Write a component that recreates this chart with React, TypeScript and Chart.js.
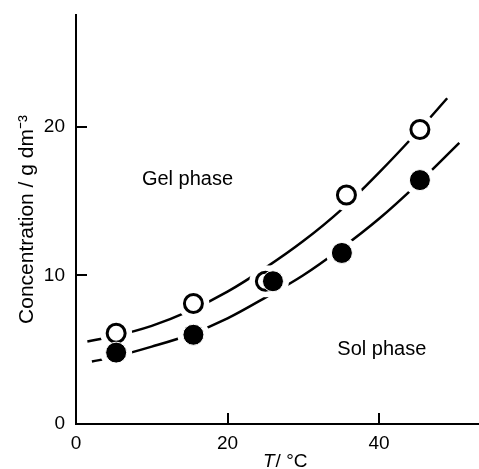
import React, { useEffect, useRef } from 'react';
import { Chart, registerables } from 'chart.js';

Chart.register(...registerables);

// Measured points (°C, g dm^-3)
const openT = [5.3, 15.5, 25.0, 35.7, 45.4];
const openC = [6.1, 8.1, 9.6, 15.4, 19.8];
const filledT = [5.3, 15.5, 26.0, 35.1, 45.4];
const filledC = [4.8, 6.0, 9.6, 11.5, 16.4];

// Hand-drawn boundary curves
const upperT = [1.5, 5, 10, 15, 20, 25, 30, 35, 40, 45, 49];
const upperC = [5.55, 5.9, 6.6, 7.6, 8.9, 10.5, 12.3, 14.4, 16.9, 19.6, 21.9];
const lowerT = [2.1, 5, 10, 15, 20, 25, 30, 35, 40, 45, 50.6];
const lowerC = [4.2, 4.5, 5.2, 6.0, 7.1, 8.5, 10.0, 11.8, 13.8, 16.1, 18.9];

const xTicks = [0, 20, 40];
const yTicks = [0, 10, 20];
const xRange = [0, 53.2];
const yRange = [0, 27.5];

const regionLabels = ['Gel phase', 'Sol phase'];
const regionT = [8.7, 34.5];
const regionC = [16.1, 4.65];

const yTitle = 'Concentration / g dm⁻³';
const xTitleItalic = 'T';
const xTitleRest = '/ °C';

const FONT = '"Liberation Sans", Arial, Helvetica, sans-serif';

const pts = (xs: number[], ys: number[]) => xs.map((x, i) => ({ x, y: ys[i] }));

export default function App() {
  const ref = useRef<HTMLCanvasElement | null>(null);

  useEffect(() => {
    document.body.style.margin = '0';
    const canvas = ref.current;
    if (!canvas) return;

    const overlay = {
      id: 'overlay',
      afterDraw(chart: any) {
        const ctx = chart.ctx;
        const xs = chart.scales.x;
        const ys = chart.scales.y;
        const area = chart.chartArea;
        ctx.save();
        // inward tick marks
        ctx.strokeStyle = '#000';
        ctx.lineWidth = 2;
        ctx.beginPath();
        xTicks.forEach((v) => {
          if (v === xRange[0]) return;
          const px = Math.round(xs.getPixelForValue(v));
          ctx.moveTo(px, area.bottom);
          ctx.lineTo(px, area.bottom - 11);
        });
        yTicks.forEach((v) => {
          if (v === yRange[0]) return;
          const py = Math.round(ys.getPixelForValue(v));
          ctx.moveTo(area.left, py);
          ctx.lineTo(area.left + 11, py);
        });
        ctx.stroke();

        // region labels
        ctx.fillStyle = '#000';
        ctx.textBaseline = 'alphabetic';
        ctx.textAlign = 'left';
        ctx.font = `20px ${FONT}`;
        regionLabels.forEach((t, i) => {
          ctx.fillText(t, xs.getPixelForValue(regionT[i]), ys.getPixelForValue(regionC[i]));
        });

        // x axis title with italic T
        const baseY = 467;
        let x0 = 263;
        ctx.font = `italic 19px ${FONT}`;
        ctx.fillText(xTitleItalic, x0, baseY);
        x0 += ctx.measureText(xTitleItalic).width + 1;
        ctx.font = `19px ${FONT}`;
        ctx.fillText(xTitleRest, x0, baseY);
        ctx.restore();
      },
    };

    const chart = new Chart(canvas, {
      type: 'scatter',
      data: {
        datasets: [
          {
            data: pts(filledT, filledC),
            pointRadius: 10.5,
            pointBackgroundColor: '#000',
            pointBorderColor: '#fff',
            pointBorderWidth: 1,
            showLine: false,
            order: 0,
          },
          {
            data: pts(openT, openC),
            pointRadius: 9,
            pointBackgroundColor: '#fff',
            pointBorderColor: '#000',
            pointBorderWidth: 3,
            showLine: false,
            order: 1,
          },
          {
            data: pts(openT, openC).concat(pts(filledT, filledC)),
            pointRadius: 16,
            pointBackgroundColor: '#fff',
            pointBorderColor: '#fff',
            pointBorderWidth: 0,
            showLine: false,
            order: 2,
          },
          {
            data: pts(upperT, upperC),
            showLine: true,
            borderColor: '#000',
            borderWidth: 2.5,
            pointRadius: 0,
            cubicInterpolationMode: 'monotone',
            order: 3,
          },
          {
            data: pts(lowerT, lowerC),
            showLine: true,
            borderColor: '#000',
            borderWidth: 2.5,
            pointRadius: 0,
            cubicInterpolationMode: 'monotone',
            order: 4,
          },
        ],
      },
      options: {
        responsive: false,
        animation: false,
        events: [],
        layout: { autoPadding: false, padding: { top: 15, right: 0, left: 0, bottom: 0 } },
        plugins: { legend: { display: false }, tooltip: { enabled: false } },
        scales: {
          x: {
            type: 'linear',
            min: xRange[0],
            max: xRange[1],
            afterBuildTicks: (s: any) => {
              s.ticks = xTicks.map((v) => ({ value: v }));
            },
            afterFit: (s: any) => {
              s.height = 45;
              s.paddingLeft = 0;
              s.paddingRight = 0;
            },
            grid: { display: false, drawTicks: false },
            border: { display: true, color: '#000', width: 2 },
            ticks: { color: '#000', padding: 8, font: { family: FONT, size: 19 }, maxRotation: 0 },
          },
          y: {
            type: 'linear',
            min: yRange[0],
            max: yRange[1],
            afterBuildTicks: (s: any) => {
              s.ticks = yTicks.map((v) => ({ value: v }));
            },
            afterFit: (s: any) => {
              s.width = 76;
              s.paddingTop = 0;
              s.paddingBottom = 0;
            },
            grid: { display: false, drawTicks: false },
            border: { display: true, color: '#000', width: 2 },
            ticks: { color: '#000', padding: 11, font: { family: FONT, size: 19 } },
            title: {
              display: true,
              text: yTitle,
              color: '#000',
              font: { family: FONT, size: 21 },
              padding: { top: 15, bottom: 0 },
            },
          },
        },
      },
      plugins: [overlay],
    });
    return () => chart.destroy();
  }, []);

  return (
    <div style={{ width: 479, height: 469 }}>
      <canvas ref={ref} width={479} height={469} />
    </div>
  );
}
